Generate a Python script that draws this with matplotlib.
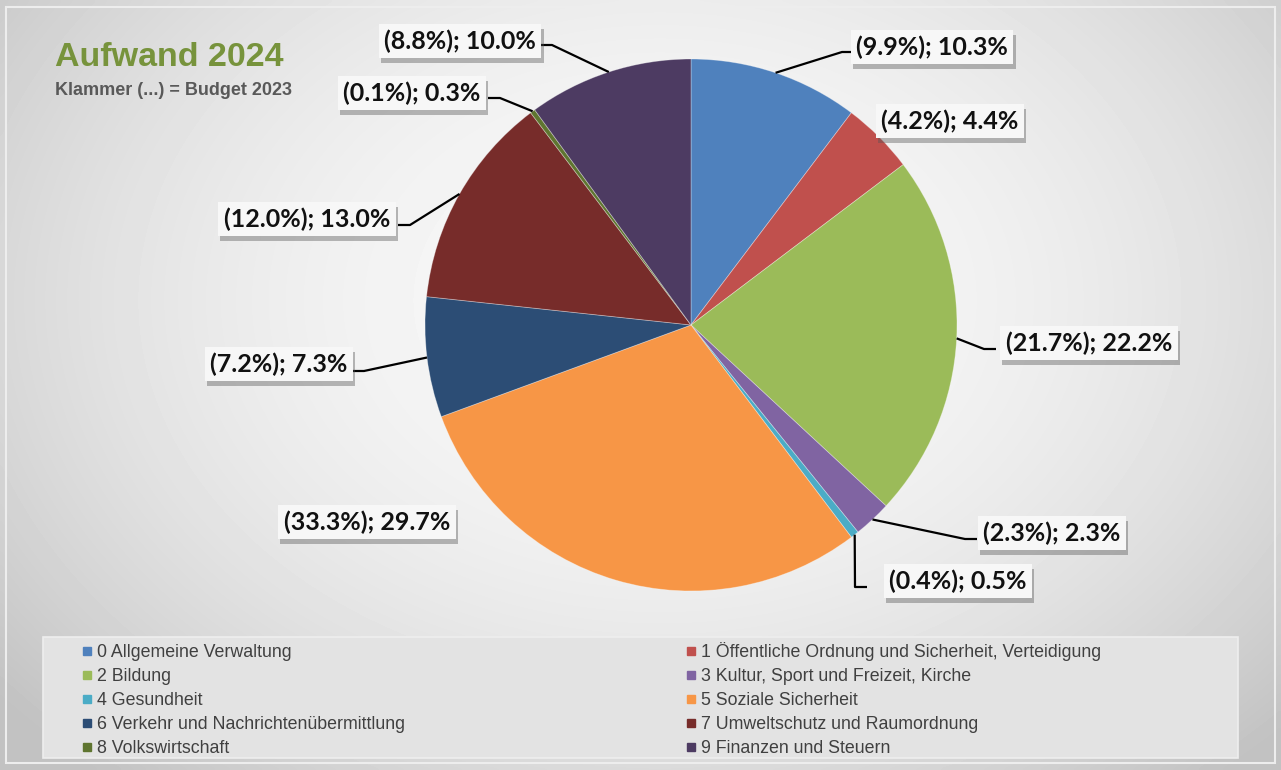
import numpy as np
import matplotlib
matplotlib.use("Agg")
import matplotlib.pyplot as plt
from matplotlib.lines import Line2D
from matplotlib.patches import Rectangle
import matplotlib.patheffects as pe

# data
categories = ["0 Allgemeine Verwaltung",
              "1 Öffentliche Ordnung und Sicherheit, Verteidigung",
              "2 Bildung",
              "3 Kultur, Sport und Freizeit, Kirche",
              "4 Gesundheit",
              "5 Soziale Sicherheit",
              "6 Verkehr und Nachrichtenübermittlung",
              "7 Umweltschutz und Raumordnung",
              "8 Volkswirtschaft",
              "9 Finanzen und Steuern"]
share2024 = [10.3, 4.4, 22.2, 2.3, 0.5, 29.7, 7.3, 13.0, 0.3, 10.0]
share2023 = [9.9, 4.2, 21.7, 2.3, 0.4, 33.3, 7.2, 12.0, 0.1, 8.8]
colors = ["#4F81BD", "#C0504D", "#9BBB59", "#8064A2", "#4BACC6",
          "#F79646", "#2C4D75", "#772C2A", "#5F7530", "#4D3B62"]

W, H = 1281, 770

# label layout in pixel coords (x, y from top)
label_pos = [(932, 47), (950, 121), (1089, 343), (1052, 533), (958, 581),
             (367, 522), (279, 364), (307, 219), (412, 93), (460, 41)]
attach = [(854, 52), None, (996, 349), (977, 539), (867, 587),
          None, (352, 371), (398, 225), (488, 98), (540, 45)]


def px(x, y):
    return x, H - y


fig = plt.figure(figsize=(W / 100, H / 100), dpi=100)
ax = fig.add_axes([0, 0, 1, 1])

# background gradient
xx, yy = np.meshgrid(np.linspace(0, W, 400), np.linspace(0, H, 240))
r2 = ((xx - 660) / 760) ** 2 + ((yy - (H - 300)) / 560) ** 2
bg = np.clip(0.975 - 0.17 * r2, 0.76, 1.0)
ax.imshow(bg, cmap="gray", vmin=0, vmax=1, extent=(0, W, 0, H),
          origin="lower", aspect="auto", zorder=0, interpolation="bicubic")
ax.add_patch(Rectangle((6, 7), W - 12, H - 14, fill=False,
                       edgecolor="#ededed", lw=1.5, zorder=1))

cx, cy = px(691, 325)
rad = 266
wedges, _ = ax.pie(share2024, colors=colors, startangle=90, counterclock=False,
                   center=(cx, cy), radius=rad, frame=True,
                   wedgeprops=dict(linewidth=0.6, edgecolor=(1, 1, 1, 0.35)))
for w in wedges:
    w.set_zorder(2)

for i, w in enumerate(wedges):
    tx, ty = px(*label_pos[i])
    txt = ax.text(tx, ty, f"({share2023[i]:.1f}%); {share2024[i]:.1f}%",
                  ha="center", va="center", fontsize=18, fontweight="bold",
                  family="Lato", color="#111111", zorder=5,
                  bbox=dict(boxstyle="square,pad=0.22", fc="#f7f7f7",
                            ec="none"))
    txt.get_bbox_patch().set_path_effects(
        [pe.SimplePatchShadow(offset=(1.5, -3.5), shadow_rgbFace="#555555",
                              alpha=0.4), pe.Normal()])
    if attach[i] is None:
        continue
    mid = np.deg2rad((w.theta1 + w.theta2) / 2)
    ex, ey = cx + rad * np.cos(mid), cy + rad * np.sin(mid)
    ax_, ay_ = px(*attach[i])
    step = -12 if ax_ > cx else 12
    ax.plot([ex, ax_ + step, ax_], [ey, ay_, ay_], color="black", lw=1.6,
            zorder=4, solid_capstyle="butt")

ax.set_xlim(0, W)
ax.set_ylim(0, H)
ax.set_aspect("auto")
ax.axis("off")

# title
ax.text(*px(55, 66), "Aufwand 2024", fontsize=24.5, fontweight="bold",
        family="Liberation Sans", color="#77933C", va="baseline", zorder=5)
ax.text(*px(55, 95), "Klammer (...) = Budget 2023", fontsize=13,
        fontweight="bold", family="Liberation Sans", color="#595959",
        va="baseline", zorder=5)

# legend box
lx0, ly0 = px(43, 758)
ax.add_patch(Rectangle((lx0, ly0), 1238 - 43, 758 - 637, facecolor="#e3e3e3",
                       edgecolor="#eeeeee", lw=1.2, zorder=1))

handles = [Line2D([], [], marker="s", markersize=5.5, linestyle="none",
                  color=c) for c in colors]
for col, x0, y0 in [(0, 83, 644), (1, 687, 642)]:
    idx = list(range(col, 10, 2))
    fig.legend([handles[k] for k in idx], [categories[k] for k in idx],
               loc="upper left", bbox_to_anchor=(x0 / W, 1 - y0 / H),
               frameon=False, ncol=1, handlelength=0.5, handletextpad=0.3,
               labelspacing=0.4, borderpad=0, borderaxespad=0,
               prop=dict(family="Liberation Sans", size=12.8),
               labelcolor="#404040")

fig.savefig("out.png", dpi=100)
